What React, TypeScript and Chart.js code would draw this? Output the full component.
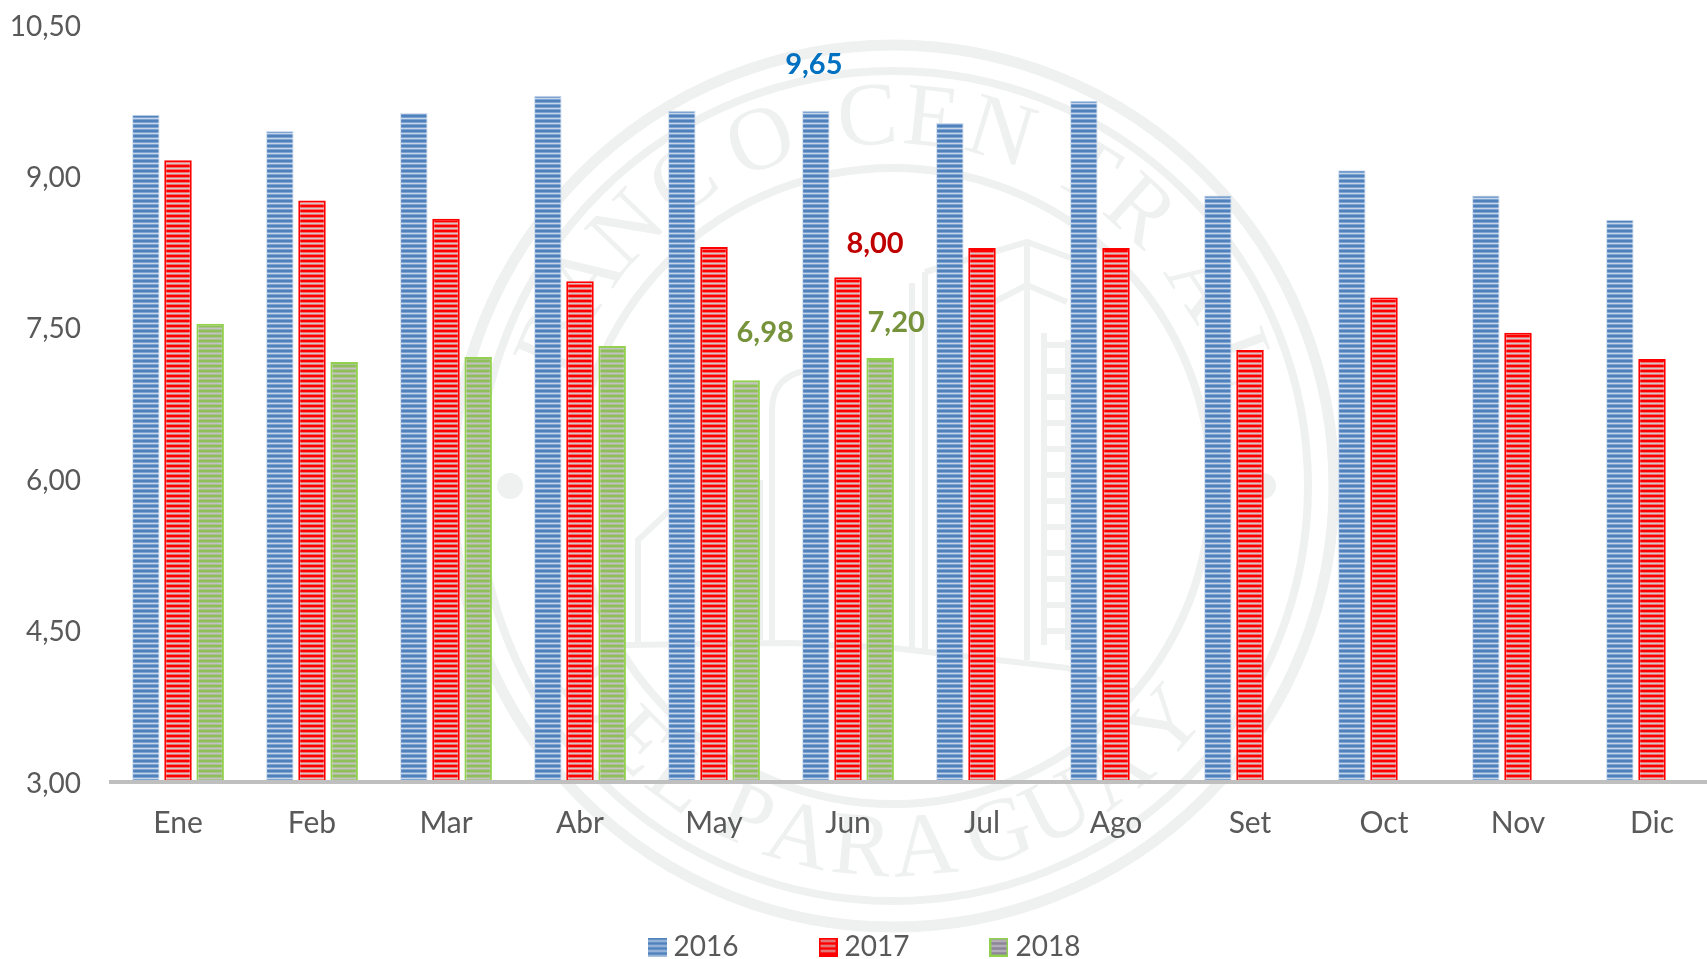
import React, { useEffect, useRef } from "react";
import { Chart, registerables } from "chart.js";

Chart.register(...registerables);

const months = ["Ene", "Feb", "Mar", "Abr", "May", "Jun", "Jul", "Ago", "Set", "Oct", "Nov", "Dic"];
const values2016 = [9.61, 9.45, 9.63, 9.8, 9.65, 9.65, 9.53, 9.75, 8.81, 9.06, 8.81, 8.57];
const values2017 = [9.16, 8.76, 8.58, 7.96, 8.3, 8.0, 8.29, 8.29, 7.28, 7.8, 7.45, 7.19];
const values2018 = [7.54, 7.16, 7.21, 7.32, 6.98, 7.2, null, null, null, null, null, null];
const seriesNames = ["2016", "2017", "2018"];

const FONT = "Lato, 'Open Sans', sans-serif";
const TEXT = "#595959";

function stripes(dark: string, mid: string, light: string) {
  const c = document.createElement("canvas");
  c.width = 4;
  c.height = 5;
  const g = c.getContext("2d")!;
  [dark, dark, mid, light, mid].forEach((col, i) => {
    g.fillStyle = col;
    g.fillRect(0, i, 4, 1);
  });
  return c;
}

function swatch(tile: HTMLCanvasElement, border: string | null) {
  const c = document.createElement("canvas");
  c.width = 19;
  c.height = 19;
  const g = c.getContext("2d")!;
  g.fillStyle = g.createPattern(tile, "repeat")!;
  g.fillRect(0, 0, 19, 19);
  if (border) {
    g.strokeStyle = border;
    g.lineWidth = 2;
    g.strokeRect(1, 1, 17, 17);
  }
  return c;
}

const sealTop: [string, number][] = [
  ["B", -67], ["A", -56], ["N", -46], ["C", -34.5], ["O", -21], ["C", -4],
  ["E", 6], ["N", 17], ["T", 31.5], ["R", 42], ["A", 57], ["L", 70],
];
const sealBottom: [string, number][] = [
  ["D", -55], ["E", -45], ["L", -36], ["P", -24], ["A", -15], ["R", -5],
  ["A", 5], ["G", 17], ["U", 27], ["A", 38], ["Y", 49],
];
const sealLines: [number, number][][] = [
  [[925, 272], [1027, 242], [1071, 258]],
  [[994, 302], [1027, 285], [1067, 302]],
  [[1027, 243], [1027, 660]],
  [[925, 272], [925, 650]],
  [[912, 283], [912, 650]],
  [[638, 643], [638, 540], [667, 513], [690, 490]],
  [[760, 480], [760, 640]],
  [[623, 645], [791, 643], [893, 648], [1067, 668], [1135, 692]],
  [[1044, 333], [1044, 645]],
  [[1068, 340], [1068, 650]],
];

const sealPlugin = {
  id: "seal",
  beforeDraw(chart: any) {
    const ctx = chart.ctx;
    const cx = 893;
    const cy = 486;
    ctx.save();
    ctx.strokeStyle = "#EEF1F0";
    ctx.fillStyle = "#EEF1F0";
    ([[441, 11], [415, 8], [318, 8]] as [number, number][]).forEach(([r, w]) => {
      ctx.lineWidth = w;
      ctx.beginPath();
      ctx.arc(cx, cy, r, 0, Math.PI * 2);
      ctx.stroke();
    });
    ctx.font = "90px 'Liberation Serif', serif";
    ctx.textAlign = "center";
    ctx.textBaseline = "middle";
    sealTop.forEach(([ch, a]) => {
      const t = (a * Math.PI) / 180;
      ctx.save();
      ctx.translate(cx + 366 * Math.sin(t), cy - 366 * Math.cos(t));
      ctx.rotate(t);
      ctx.fillText(ch, 0, 0);
      ctx.restore();
    });
    sealBottom.forEach(([ch, a]) => {
      const t = (a * Math.PI) / 180;
      ctx.save();
      ctx.translate(cx + 366 * Math.sin(t), cy + 366 * Math.cos(t));
      ctx.rotate(-t);
      ctx.fillText(ch, 0, 0);
      ctx.restore();
    });
    ctx.lineWidth = 6;
    sealLines.forEach((pts) => {
      ctx.beginPath();
      pts.forEach(([x, y], i) => (i ? ctx.lineTo(x, y) : ctx.moveTo(x, y)));
      ctx.stroke();
    });
    ctx.beginPath();
    ctx.moveTo(772, 645);
    ctx.lineTo(772, 410);
    ctx.quadraticCurveTo(772, 375, 810, 370);
    ctx.stroke();
    for (let y = 345; y < 645; y += 26) {
      ctx.beginPath();
      ctx.moveTo(1044, y);
      ctx.lineTo(1068, y);
      ctx.stroke();
    }
    [510, 1263].forEach((x) => {
      ctx.beginPath();
      ctx.arc(x, 486, 13, 0, Math.PI * 2);
      ctx.fill();
    });
    ctx.restore();
  },
};

const callouts = [
  { series: 0, month: 5, dx: -2, dy: -46, color: "#0070C0" },
  { series: 1, month: 5, dx: 27, dy: -34, color: "#C00000" },
  { series: 2, month: 4, dx: 19, dy: -48, color: "#76933C" },
  { series: 2, month: 5, dx: 16, dy: -35, color: "#76933C" },
];

const calloutPlugin = {
  id: "callouts",
  afterDatasetsDraw(chart: any) {
    const ctx = chart.ctx;
    ctx.save();
    ctx.font = `bold 29px ${FONT}`;
    ctx.textAlign = "center";
    ctx.textBaseline = "middle";
    callouts.forEach((c) => {
      const el = chart.getDatasetMeta(c.series).data[c.month];
      const v = chart.data.datasets[c.series].data[c.month] as number;
      ctx.fillStyle = c.color;
      ctx.fillText(v.toFixed(2).replace(".", ","), el.x + c.dx, el.y + c.dy);
    });
    ctx.restore();
  },
};

const legendFit = {
  id: "legendFit",
  beforeLayout(chart: any) {
    const l = chart.legend;
    if (l && !l.__fixed) {
      const fit = l.fit.bind(l);
      l.fit = () => {
        fit();
        l.height = 113;
      };
      l.__fixed = true;
    }
  },
  afterLayout(chart: any) {
    const l = chart.legend;
    l.left += 8;
    l.right += 8;
  },
};

export default function App() {
  const ref = useRef<HTMLCanvasElement | null>(null);

  useEffect(() => {
    const canvas = ref.current!;
    const ctx = canvas.getContext("2d")!;
    const tiles = [
      stripes("#4F81BD", "#7FA3D0", "#C6D6EA"),
      stripes("#FF0000", "#EE7070", "#D8C6C6"),
      stripes("#8FBF5A", "#ABC08F", "#C4C2C6"),
    ];
    const marks = [
      swatch(stripes("#4F81BD", "#7FA3D0", "#A9C2E0"), null),
      swatch(stripes("#FF0000", "#EE5050", "#D8A0A0"), "#FF0000"),
      swatch(stripes("#8C8598", "#A09AA8", "#C4C0C8"), "#92D050"),
    ];
    const common = { categoryPercentage: 0.72, barPercentage: 0.855, borderSkipped: false };
    const chart = new Chart(ctx, {
      type: "bar",
      data: {
        labels: months,
        datasets: [
          { label: seriesNames[0], data: values2016, backgroundColor: ctx.createPattern(tiles[0], "repeat")!, borderColor: "rgba(198,214,234,0.8)", borderWidth: 1, ...common },
          { label: seriesNames[1], data: values2017, backgroundColor: ctx.createPattern(tiles[1], "repeat")!, borderColor: "#FF0000", borderWidth: 2, ...common },
          { label: seriesNames[2], data: values2018, backgroundColor: ctx.createPattern(tiles[2], "repeat")!, borderColor: "#92D050", borderWidth: 2, ...common },
        ],
      },
      options: {
        responsive: false,
        animation: false,
        layout: { padding: { top: 25, right: 25, left: 0, bottom: 0 } },
        plugins: {
          tooltip: { enabled: false },
          legend: {
            position: "bottom",
            align: "center",
            labels: {
              color: TEXT,
              font: { family: FONT, size: 28 },
              usePointStyle: true,
              boxWidth: 5,
              boxHeight: 28,
              padding: 87,
              generateLabels(c: any) {
                const base = Chart.defaults.plugins.legend.labels.generateLabels(c);
                return base.map((it: any, i: number) => ({ ...it, pointStyle: marks[i] }));
              },
            },
          },
        },
        scales: {
          x: {
            grid: { display: false },
            border: { display: true, color: "#BFBFBF", width: 4, z: 1 },
            ticks: { color: TEXT, font: { family: FONT, size: 30 }, padding: 15, maxRotation: 0 },
            afterFit(s: any) {
              s.height = 64;
            },
          },
          y: {
            min: 3,
            max: 10.5,
            grid: { display: false, drawTicks: false },
            border: { display: false },
            ticks: {
              stepSize: 1.5,
              color: TEXT,
              font: { family: FONT, size: 28 },
              padding: 30,
              labelOffset: 1.5,
              callback: (v: any) => Number(v).toFixed(2).replace(".", ","),
            },
            afterFit(s: any) {
              s.width = 111;
              s.paddingTop = 0;
              s.paddingBottom = 0;
            },
          },
        },
      },
      plugins: [legendFit, sealPlugin, calloutPlugin],
    } as any);
    return () => chart.destroy();
  }, []);

  return (
    <div style={{ position: "fixed", left: 0, top: 0, width: 1707, height: 959, overflow: "hidden", background: "#fff" }}>
      <canvas ref={ref} width={1744} height={959} style={{ display: "block" }} />
    </div>
  );
}
